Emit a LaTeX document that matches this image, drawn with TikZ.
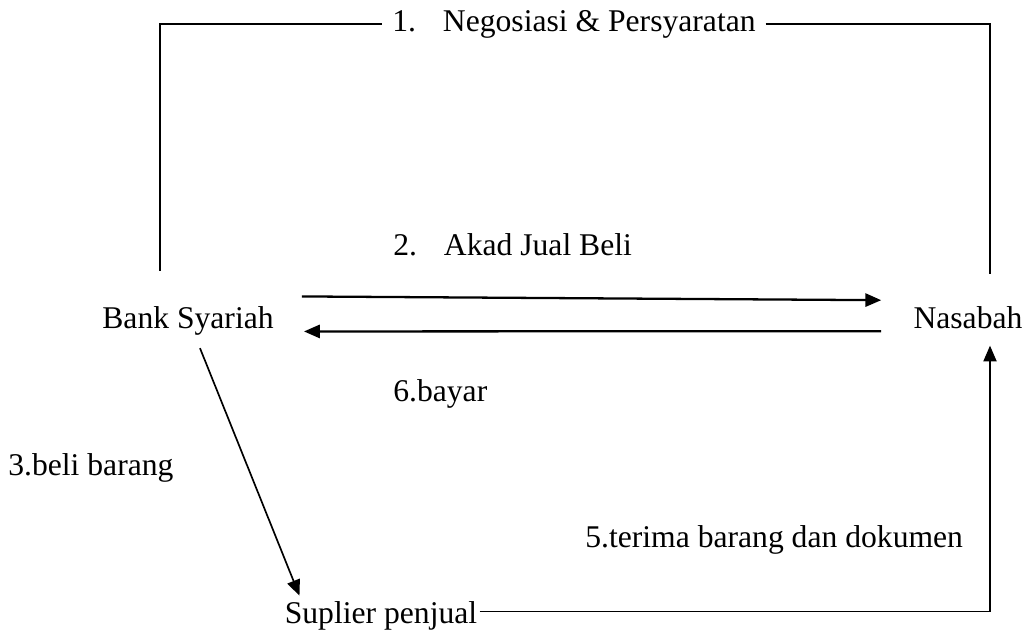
\documentclass[tikz,border=0pt]{standalone}
\usepackage{fontspec}
\setmainfont{Liberation Serif}
\usetikzlibrary{arrows.meta,positioning,calc}

\tikzset{
    txt/.style={inner sep=0pt, font=\fontsize{18}{21}\selectfont},
    party/.style={txt, anchor=base},
    akad/.style={line width=1.3pt, -{Triangle[length=9pt, width=7.5pt]}},
    flow/.style={line width=0.95pt, -{Triangle[length=9pt, width=7.5pt]}},
    link/.style={line width=0.8pt}
}

\begin{document}
\begin{tikzpicture}[x=0.02cm, y=-0.02cm]
    \useasboundingbox (0,0) rectangle (1028,632);

    % parties
    \node[party] (bank) at (188,328) {Bank Syariah};
    \node[party] (nas) at (968,328) {Nasabah};
    \node[party] (sup) at (381,623) {Suplier penjual};

    % steps
    \node[txt, inner xsep=5.5pt] (neg) at (574,24) {1.\hspace{0.85em}Negosiasi \& Persyaratan};
    \node[txt, anchor=west] (akadlbl) at (393,245) {2.\hspace{0.85em}Akad Jual Beli};
    \node[txt, anchor=west] (bayar) at (393,394) {6.bayar};
    \node[txt, anchor=west] (beli) at (8,468) {3.beli barang};
    \node[txt, anchor=west] (terima) at (585,540) {5.terima barang dan dokumen};

    % Negosiasi
    \draw[link] ($(bank.north)+(-28,-35)$) |- (neg.west);
    \draw[link] (neg.east) -| ($(nas.north)+(22,-32)$);

    % Akad / bayar
    \draw[akad] ($(bank.east)+(28,-24)$) -- ($(nas.west)+(-32,-17)$);
    \draw[akad] ($(nas.west)+(-32,14)$) -- ($(bank.east)+(30,11)$);

    % beli barang
    \draw[flow] ($(bank.south)+(12,13)$) -- ($(sup.north west)+(15,-5)$);

    % terima barang
    \draw[flow] ($(sup.east)+(2,-4)$) -| ($(nas.south)+(22,17)$);
\end{tikzpicture}
\end{document}
